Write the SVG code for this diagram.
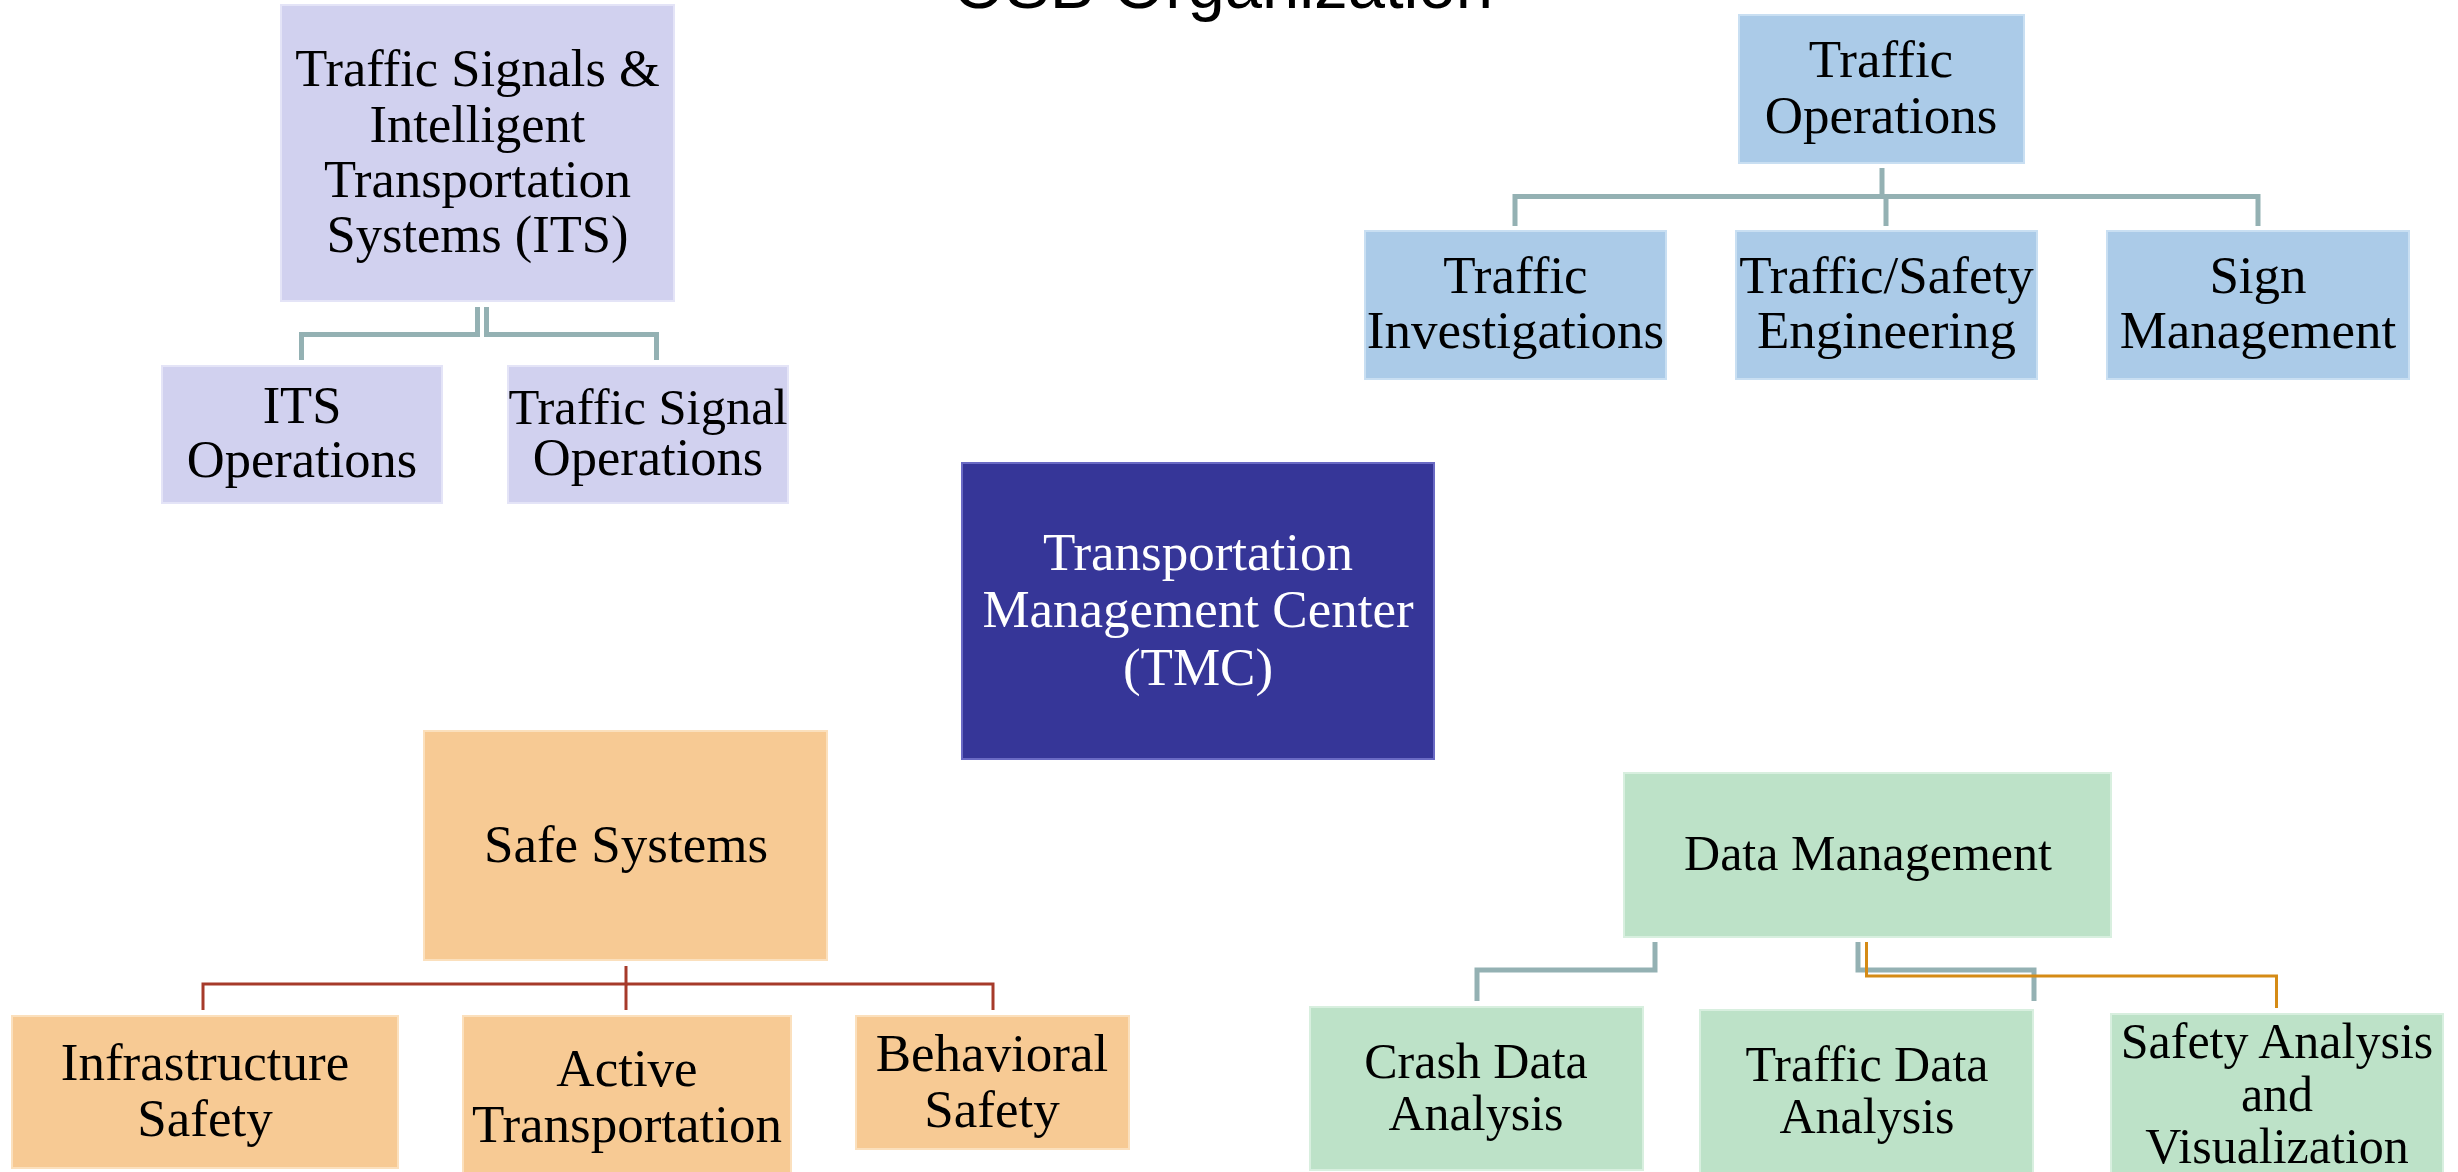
<svg xmlns="http://www.w3.org/2000/svg" width="2458" height="1172" viewBox="0 0 2458 1172">
<style>
text{font-family:"Liberation Serif","Times New Roman",serif;text-anchor:middle;fill:#000}
.t{font-family:"Liberation Sans",Arial,sans-serif;font-size:67px}
.its rect{fill:#d1d1ef;stroke:#e4e4f7;stroke-width:2}
.ops rect{fill:#abcbe8;stroke:#c9dff2;stroke-width:2}
.tmc rect{fill:#363698;stroke:#6a6ac4;stroke-width:2}
.safe rect{fill:#f7ca94;stroke:#fbe0bd;stroke-width:2}
.data rect{fill:#bde2c8;stroke:#d8efdf;stroke-width:2}
.tmc text{fill:#fff;font-size:53px}
.f52 text{font-size:52.5px}
.f53 text{font-size:53px}
.f50 text{font-size:50px}
.g{fill:none;stroke:#94b1b3;stroke-width:5}
.r{fill:none;stroke:#a63a2a;stroke-width:3}
.o{fill:none;stroke:#d58b16;stroke-width:3}
</style>
<text class="t" x="1223" y="8">OSB Organization</text>
<g id="connectors">
<path class="g" d="M477.5,307V334.5H301.5V360"/>
<path class="g" d="M486.5,307V334.5H656.5V360"/>
<path class="g" d="M1882,168V196.5H1515V226"/>
<path class="g" d="M1882,196.5H1886V226"/>
<path class="g" d="M1882,196.5H2258V226"/>
<path class="r" d="M626,966V984H203V1010"/>
<path class="r" d="M626,984V1010"/>
<path class="r" d="M626,984H993V1010"/>
<path class="g" d="M1655,942V970H1477V1001"/>
<path class="g" d="M1858,942V970H2034V1001"/>
<path class="o" d="M1866.5,942V976H2276.5V1008"/>
</g>
<g id="its" class="its f52">
<rect x="281" y="5" width="393" height="296"/>
<text x="477.5" y="86">Traffic Signals &amp;</text>
<text x="477.5" y="142">Intelligent</text>
<text x="477.5" y="197">Transportation</text>
<text x="477.5" y="252">Systems (ITS)</text>
</g>
<g id="its-ops" class="its f52">
<rect x="162" y="366" width="280" height="137"/>
<text x="302" y="423">ITS</text>
<text x="302" y="477">Operations</text>
</g>
<g id="signal-ops" class="its f52">
<rect x="508" y="366" width="280" height="137"/>
<text x="648" y="424" style="font-size:50.5px">Traffic Signal</text>
<text x="648" y="475">Operations</text>
</g>
<g id="traffic-ops" class="ops f53">
<rect x="1739" y="15" width="285" height="148"/>
<text x="1881" y="77">Traffic</text>
<text x="1881" y="133">Operations</text>
</g>
<g id="traffic-inv" class="ops f53">
<rect x="1365" y="231" width="301" height="148"/>
<text x="1515.5" y="293">Traffic</text>
<text x="1515.5" y="348">Investigations</text>
</g>
<g id="traffic-safety" class="ops f53">
<rect x="1736" y="231" width="301" height="148"/>
<text x="1886.5" y="293">Traffic/Safety</text>
<text x="1886.5" y="348">Engineering</text>
</g>
<g id="sign" class="ops f53">
<rect x="2107" y="231" width="302" height="148"/>
<text x="2258" y="293">Sign</text>
<text x="2258" y="348">Management</text>
</g>
<g id="tmc" class="tmc">
<rect x="962" y="463" width="472" height="296"/>
<text x="1198" y="570">Transportation</text>
<text x="1198" y="627">Management Center</text>
<text x="1198" y="685">(TMC)</text>
</g>
<g id="safe-systems" class="safe f53">
<rect x="424" y="731" width="403" height="229"/>
<text x="626" y="862">Safe Systems</text>
</g>
<g id="infra" class="safe f53">
<rect x="12" y="1016" width="386" height="152"/>
<text x="205" y="1080">Infrastructure</text>
<text x="205" y="1136">Safety</text>
</g>
<g id="active" class="safe f53">
<rect x="463" y="1016" width="328" height="160"/>
<text x="627" y="1086">Active</text>
<text x="627" y="1142">Transportation</text>
</g>
<g id="behavioral" class="safe f53">
<rect x="856" y="1016" width="273" height="133"/>
<text x="992" y="1071">Behavioral</text>
<text x="992" y="1127">Safety</text>
</g>
<g id="data-mgmt" class="data f50">
<rect x="1624" y="773" width="487" height="164"/>
<text x="1868" y="870">Data Management</text>
</g>
<g id="crash" class="data f50">
<rect x="1310" y="1007" width="333" height="163"/>
<text x="1476" y="1078">Crash Data</text>
<text x="1476" y="1130">Analysis</text>
</g>
<g id="traffic-data" class="data f50">
<rect x="1700" y="1010" width="333" height="166"/>
<text x="1867" y="1081">Traffic Data</text>
<text x="1867" y="1133">Analysis</text>
</g>
<g id="safety-analysis" class="data f50">
<rect x="2111" y="1014" width="332" height="162"/>
<text x="2277" y="1058">Safety Analysis</text>
<text x="2277" y="1111">and</text>
<text x="2277" y="1163">Visualization</text>
</g>
</svg>
